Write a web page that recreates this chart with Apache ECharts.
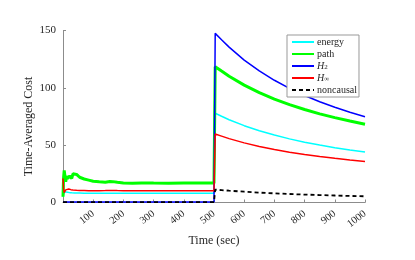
<!DOCTYPE html>
<html><head><meta charset="utf-8">
<script src="https://cdn.jsdelivr.net/npm/echarts@6/dist/echarts.min.js"></script>
<style>html,body{margin:0;padding:0;background:#fff}#c{width:415px;height:260px}</style>
</head><body><div id="c"></div>
<script>
const T = [0,2,4,6,9,12,15,19,22,26,29,33,38,45,55,70,85,100,120,140,155,165,180,200,230,260,300,350,400,450,500,504,525,550,600,650,700,750,800,850,900,950,1000];
const energy = [5,7,8.5,9.3,9.5,9.2,9,8.8,8.6,8.5,8.4,8.3,8.3,8.2,8.2,8.1,8.1,8.1,8,8,8,8,8,8,8,8,8,8,8,8,8,77.8,75.2,72.2,67,62.6,58.8,55.5,52.6,50.1,47.8,45.8,44];
const path = [5,22,28,24,18,23,21,20,23,24,21,25,26,24.5,22,20.5,19.5,18.5,18,17.6,18.3,18.2,17.6,17,16.8,17,16.9,16.8,17,17,16.9,118.4,114.6,110.1,102.4,95.8,90.2,85.4,81.1,77.3,74,71,68.3];
const h2 = [0.4,0.4,0.4,0.4,0.4,0.4,0.4,0.4,0.4,0.4,0.4,0.4,0.4,0.4,0.4,0.4,0.4,0.4,0.4,0.4,0.4,0.4,0.4,0.4,0.4,0.4,0.4,0.4,0.4,0.4,0.4,147.5,141.9,135.5,124.2,114.7,106.6,99.5,93.3,87.9,83,78.7,74.8];
const hinf = [21,12,8.5,9,11,12,12.2,11.8,11.5,11.2,11,10.9,10.8,10.6,10.5,10.4,10.3,10.3,10.3,10.4,10.5,10.5,10.4,10.3,10.3,10.3,10.3,10.3,10.3,10.3,10.3,59.7,57.9,55.7,52,48.9,46.2,43.9,41.9,40.1,38.5,37.1,35.8];
const noncausal = [0.3,0.3,0.3,0.3,0.3,0.3,0.3,0.3,0.3,0.3,0.3,0.3,0.3,0.3,0.3,0.3,0.3,0.3,0.3,0.3,0.3,0.3,0.3,0.3,0.3,0.3,0.3,0.3,0.3,0.3,0.3,11.2,10.8,10.3,9.4,8.6,8,7.4,6.9,6.5,6.1,5.7,5.4];
const seriesNames = ['energy','path','H2','Hinf','noncausal'];
const xTicks = [0,100,200,300,400,500,600,700,800,900,1000];
const yTicks = [0,50,100,150];

const FONT = '"Liberation Serif","DejaVu Serif",serif';
const TXT = '#262626';
const AX = '#8c8c8c';
const pairs = a => T.map((t,i)=>[t,a[i]]);
const mk = (name, data, color, width, type) => ({
  name, type:'line', data: pairs(data), symbol:'none', showSymbol:false,
  lineStyle:{color, width, type: type||'solid'}, itemStyle:{color},
  emphasis:{disabled:true}, silent:true
});
const chart = echarts.init(document.getElementById('c'), null, {renderer:'canvas'});
chart.setOption({
  animation:false,
  backgroundColor:'#fff',
  grid:{left:63, right:50, top:30.5, bottom:57.5, containLabel:false},
  xAxis:{type:'value', min:xTicks[0], max:xTicks[xTicks.length-1], interval:100,
    name:'Time (sec)', nameLocation:'middle', nameGap:32, nameMoveOverlap:false,
    nameTextStyle:{fontFamily:FONT, fontSize:12, color:TXT},
    axisLine:{show:true, lineStyle:{color:AX, width:1}},
    axisTick:{show:true, inside:true, length:3, lineStyle:{color:AX}},
    splitLine:{show:false},
    axisLabel:{rotate:38, margin:10, fontFamily:FONT, fontSize:10.5, color:TXT,
      formatter:v => v===0 ? '' : String(v)}
  },
  yAxis:{type:'value', min:yTicks[0], max:yTicks[yTicks.length-1], interval:50,
    name:'Time-Averaged Cost', nameLocation:'middle', nameGap:28, nameMoveOverlap:false,
    nameTextStyle:{fontFamily:FONT, fontSize:12, color:TXT, padding:[0,20,0,0]},
    axisLine:{show:true, lineStyle:{color:AX, width:1}},
    axisTick:{show:true, inside:true, length:3, lineStyle:{color:AX}},
    splitLine:{show:false},
    axisLabel:{margin:7, fontFamily:FONT, fontSize:11, color:TXT}
  },
  legend:{orient:'vertical', left:287, top:35, padding:[2,2,2,4],
    itemWidth:22, itemHeight:10, itemGap:2,
    itemStyle:{opacity:0, borderWidth:0},
    backgroundColor:'#fff', borderColor:'#999', borderWidth:1, borderRadius:0,
    data:seriesNames,
    formatter:n => n==='H2' ? '{i|H}{s|2}' : (n==='Hinf' ? '{i|H}{s|∞}' : n),
    textStyle:{fontFamily:FONT, fontSize:10, color:TXT, lineHeight:10,
      padding:[0,0,0,-2],
      rich:{
        i:{fontFamily:FONT, fontSize:10, fontStyle:'italic', color:TXT, lineHeight:10},
        s:{fontFamily:FONT, fontSize:7, color:TXT, lineHeight:5, verticalAlign:'bottom'}
      }}
  },
  series:[
    mk(seriesNames[0], energy, '#00ffff', 1.5),
    mk(seriesNames[1], path, '#00ff00', 3),
    mk(seriesNames[2], h2, '#0000ff', 1.5),
    mk(seriesNames[3], hinf, '#ff0000', 1.5),
    mk(seriesNames[4], noncausal, '#000000', 1.8, [4,3])
  ]
});
</script></body></html>
